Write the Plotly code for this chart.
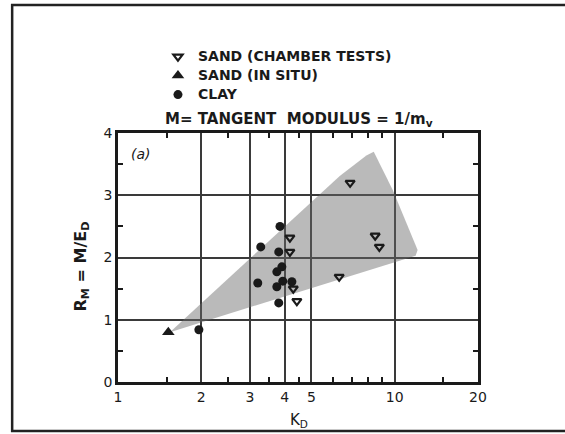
import plotly.graph_objects as go

# ---- data ----
chamber_x = [6.9, 8.5, 8.8, 6.3, 4.18, 4.18, 4.3, 4.43]
chamber_y = [3.2, 2.35, 2.17, 1.69, 2.32, 2.09, 1.5, 1.3]
insitu_x = [1.52]
insitu_y = [0.80]
clay_x = [3.85, 3.28, 3.81, 3.2, 1.96, 3.91, 3.75, 3.94, 3.75, 4.25, 3.81]
clay_y = [2.5, 2.17, 2.09, 1.59, 0.84, 1.85, 1.77, 1.62, 1.53, 1.61, 1.27]
shade_x = [1.54, 6.33, 7.9, 8.4, 9.83, 12.1, 11.9, 1.54]
shade_y = [0.80, 3.31, 3.64, 3.70, 3.09, 2.12, 2.03, 0.80]
x_ticks = [1, 2, 3, 4, 5, 10, 20]
x_minor = [1.5, 2.5, 3.5, 4.5, 6, 7, 8, 9, 15]
y_ticks = [0, 1, 2, 3, 4]
y_minor = [0.5, 1.5, 2.5, 3.5]

FONT = "DejaVu Sans"
INK = "#1a1a1a"


def lg(name):
    return '<span style="font-size:14px"><b>' + name + '</b></span>'


fig = go.Figure()
fig.add_trace(go.Scatter(x=shade_x, y=shade_y, mode="lines", fill="toself",
                         fillcolor="rgba(105,105,105,0.46)", line=dict(width=0),
                         showlegend=False, hoverinfo="skip"))
fig.add_trace(go.Scatter(x=chamber_x, y=chamber_y, mode="markers", name=lg("SAND (CHAMBER TESTS)"),
                         marker=dict(symbol="triangle-down-open", size=8, color=INK,
                                     line=dict(width=2.2, color=INK))))
fig.add_trace(go.Scatter(x=insitu_x, y=insitu_y, mode="markers", name=lg("SAND (IN SITU)"),
                         marker=dict(symbol="triangle-up", size=11, color=INK)))
fig.add_trace(go.Scatter(x=clay_x, y=clay_y, mode="markers", name=lg("CLAY"),
                         marker=dict(symbol="circle", size=9, color=INK)))

axis_common = dict(showline=True, linecolor=INK, linewidth=2.5, mirror="ticks",
                   showgrid=True, gridcolor="#3a3a3a", gridwidth=2, zeroline=False,
                   ticks="", tickfont=dict(family=FONT, size=14, color=INK))

fig.update_xaxes(type="log", range=[0, 1.30103], tickmode="array", tickvals=x_ticks,
                 ticktext=[str(v) for v in x_ticks],
                 minor=dict(tickmode="array", tickvals=x_minor, ticks="inside", ticklen=5,
                            tickwidth=1.5, tickcolor=INK, showgrid=False),
                 **axis_common)
fig.update_yaxes(range=[0, 4], tickmode="array", tickvals=y_ticks,
                 ticktext=[str(v) for v in y_ticks],
                 minor=dict(tickmode="array", tickvals=y_minor, ticks="inside", ticklen=5,
                            tickwidth=1.5, tickcolor=INK, showgrid=False),
                 **axis_common)

fig.update_layout(
    width=565, height=434,
    margin=dict(l=118, r=87, t=133, b=52),
    paper_bgcolor="white", plot_bgcolor="white",
    font=dict(family=FONT, size=13, color=INK),
    legend=dict(x=0.111, y=1.365, xanchor="left", yanchor="top",
                bgcolor="rgba(0,0,0,0)", font=dict(family=FONT, size=11, color=INK),
                tracegroupgap=0),
    annotations=[
        dict(text="<b>M= TANGENT  MODULUS = 1/m<sub>v</sub></b>", x=0.503, y=1.1,
             xref="paper", yref="paper", showarrow=False,
             font=dict(family=FONT, size=15, color=INK)),
        dict(text="<i>(a)</i>", x=0.03, y=0.955, xref="paper", yref="paper", showarrow=False,
             font=dict(family=FONT, size=14, color=INK)),
        dict(text="K<sub>D</sub>", x=0.503, y=-0.2, xref="paper", yref="paper",
             showarrow=False, font=dict(family=FONT, size=15, color=INK)),
        dict(text="<b>R<sub>M</sub> = M/E<sub>D</sub></b>", x=-0.136, y=0.462, xref="paper",
             yref="paper", showarrow=False, textangle=-90,
             font=dict(family=FONT, size=16, color=INK)),
    ],
    shapes=[dict(type="path", xref="paper", yref="paper",
                 path="M 1.6,-0.197 L -0.294,-0.197 L -0.294,1.514 L 1.6,1.514",
                 line=dict(color="#222", width=2.5))],
)

fig.write_html("out.html")
